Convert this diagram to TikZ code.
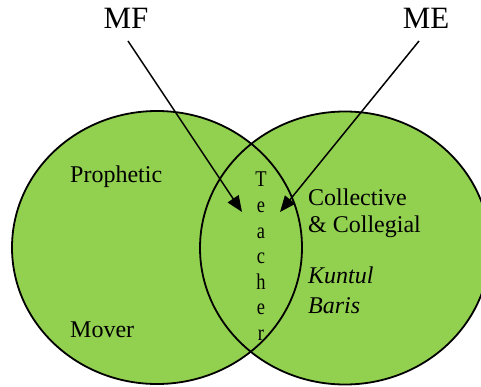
\documentclass[tikz,border=0pt]{standalone}
\usepackage{fontspec}
\setmainfont{Liberation Serif}
\usetikzlibrary{arrows.meta,shapes.geometric}
\definecolor{vgreen}{HTML}{92D050}
\tikzset{
  circ/.style={ellipse, fill=vgreen, draw=none, minimum width=290pt, minimum height=273pt, inner sep=0pt},
  outline/.style={line width=1.8pt, draw=black},
  arr/.style={line width=1.5pt, -{Triangle[length=16pt,width=13pt]}},
  big/.style={font=\fontsize{31}{34}\selectfont, inner sep=0pt, anchor=base},
  lab/.style={font=\fontsize{24}{28}\selectfont, inner sep=0pt, anchor=base west},
  letter/.style={font=\fontsize{22.5}{24}\selectfont, inner sep=0pt, anchor=base, xscale=0.82, transform shape}
}
\begin{document}
\begin{tikzpicture}[x=1pt,y=-1pt]
\useasboundingbox (0,0) rectangle (481,387);
\clip (0,0) rectangle (481,387);
\node[circ] (L) at (157,247.5) {};
\node[circ] (R) at (345,248) {};
\draw[outline] (L.center) ellipse [x radius=145pt, y radius=136.5pt];
\draw[outline] (R.center) ellipse [x radius=145pt, y radius=136.5pt];
\node[big] (MF) at (126,29) {MF};
\node[big] (ME) at (426,29) {ME};
\coordinate (mfs) at (128,41);
\coordinate (mft) at (242,212);
\coordinate (mes) at (419,41);
\coordinate (met) at (280,212);
\draw[arr] (mfs) -- (mft);
\draw[arr] (mes) -- (met);
\node[lab] (pro) at (70,183) {Prophetic};
\node[lab] (mov) at (70,337) {Mover};
\node[lab] (col) at (308,205) {Collective};
\node[lab] (coll) at (308,233) {\& Collegial};
\node[lab] (kun) at (308,283) {\itshape Kuntul};
\node[lab] (bar) at (308,313) {\itshape Baris};
\foreach \l [count=\i] in {T,e,a,c,h,e,r}
  \node[letter] (t\i) at (261,{187+25.5*(\i-1)}) {\l};
\end{tikzpicture}
\end{document}
